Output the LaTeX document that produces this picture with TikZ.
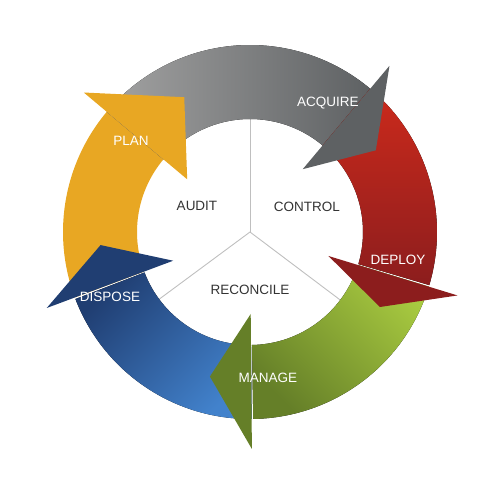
\documentclass[tikz,border=0pt]{standalone}
\usepackage{fontspec}
\setmainfont{Liberation Sans}
\definecolor{planyellow}{HTML}{E8A723}
\definecolor{acqlight}{HTML}{A2A2A2}
\definecolor{acqdark}{HTML}{5E6163}
\definecolor{deplight}{HTML}{CC2A1C}
\definecolor{depdark}{HTML}{8C1D1D}
\definecolor{manlight}{HTML}{A8CA40}
\definecolor{mandark}{HTML}{657F28}
\definecolor{displight}{HTML}{4282CC}
\definecolor{dispmid}{HTML}{2A5392}
\definecolor{dispdark}{HTML}{203E72}
\definecolor{hubtext}{HTML}{333333}
\tikzstyle{steplabel}=[text=white, font=\fontsize{13.5}{14}\selectfont]
\tikzstyle{hublabel}=[text=hubtext, font=\fontsize{13.5}{14}\selectfont]
\tikzstyle{divider}=[draw=black!25, line width=0.9pt]
% curved band of one step, from tail angle #2 to head angle #3
\newcommand{\arrowbody}[3]{
  \fill[#1] (#2:113) arc[start angle=#2, end angle=#3, radius=113]
    -- (#3:187) arc[start angle=#3, end angle=#2, radius=187] -- cycle;
}
% flat head: back edge at angle #2, tip at angle #3
\newcommand{\arrowhead}[3]{
  \fill[#1] (#2:82) -- (#3:150) -- (#2:217) -- cycle;
}

\begin{document}
\begin{tikzpicture}[x=1pt, y=1pt]
    \useasboundingbox (-250,-248) rectangle (230,232);
    \coordinate (hub) at (0,0);
    \coordinate (cut1) at (90:113);
    \coordinate (cut2) at (216.5:113);
    \coordinate (cut3) at (-37:113);
    \draw[divider] (hub) -- (cut1);
    \draw[divider] (hub) -- (cut2);
    \draw[divider] (hub) -- (cut3);
    \arrowbody{planyellow}{200.5}{139.5}
    \arrowbody{left color=acqlight, right color=acqdark}{140}{49.5}
    \arrowbody{top color=deplight, bottom color=depdark}{50}{-16.5}
    \arrowbody{top color=manlight, bottom color=mandark, shading angle=-45}{-17}{-89}
    \arrowbody{top color=dispdark, middle color=dispmid, bottom color=displight, shading angle=45}{-89.5}{-159}
    \arrowhead{planyellow}{140}{116}
    \arrowhead{acqdark}{50}{33}
    \arrowhead{depdark}{-17}{-30}
    \arrowhead{mandark}{-89.5}{-105.5}
    \arrowhead{dispdark}{200.5}{185}
    \node[steplabel] (plan) at (-119,91) {PLAN};
    \node[steplabel] (acquire) at (78,129) {ACQUIRE};
    \node[steplabel] (deploy) at (148,-28) {DEPLOY};
    \node[steplabel] (manage) at (18,-146) {MANAGE};
    \node[steplabel] (dispose) at (-140,-65) {DISPOSE};
    \node[hublabel] (audit) at (-53,26) {AUDIT};
    \node[hublabel] (control) at (57,25) {CONTROL};
    \node[hublabel] (reconcile) at (0,-58) {RECONCILE};
  \end{tikzpicture}
\end{document}
